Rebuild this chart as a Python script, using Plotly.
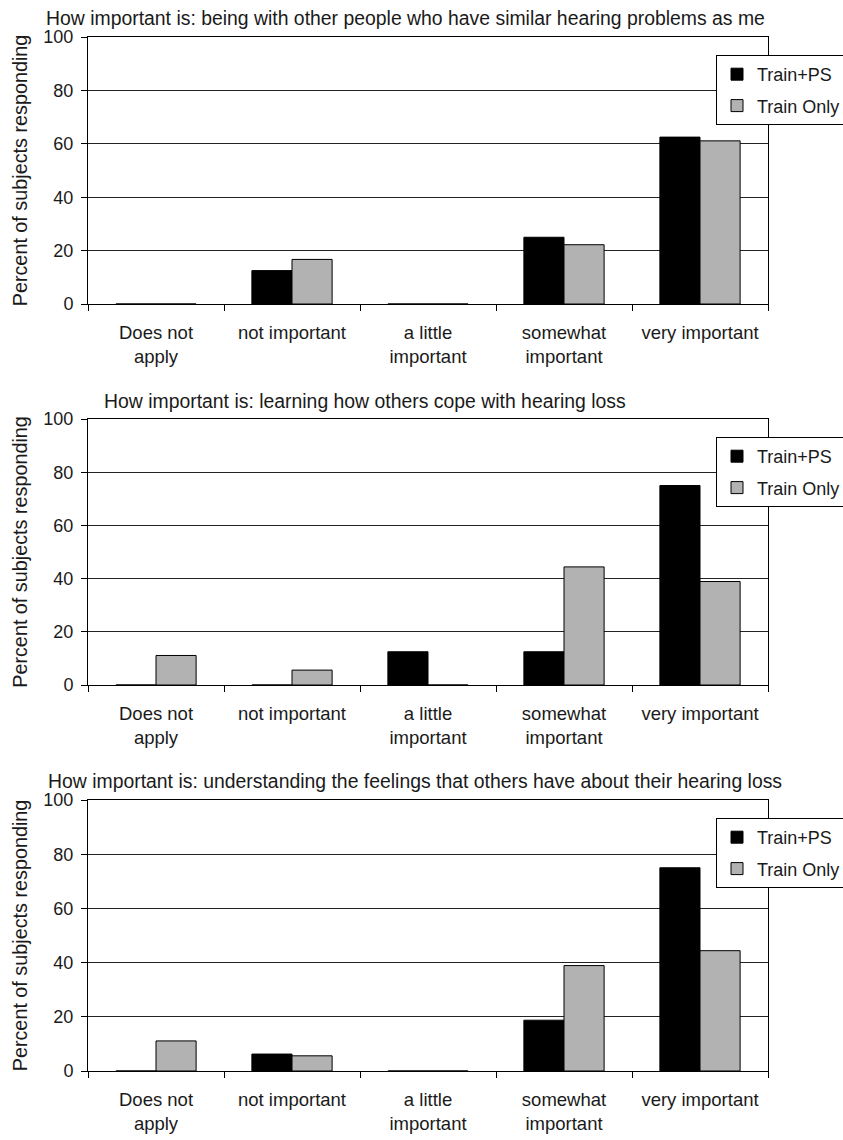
import plotly.graph_objects as go

categories = ["Does not<br>apply", "not important", "a little<br>important",
              "somewhat<br>important", "very important"]
series_names = ["Train+PS", "Train Only"]
panel_titles = [
    "How important is: being with other people who have similar hearing problems as me",
    "How important is: learning how others cope with hearing loss",
    "How important is: understanding the feelings that others have about their hearing loss",
]
train_ps_1 = [0, 12.5, 0, 25, 62.5]
train_only_1 = [0, 16.7, 0, 22.2, 61.1]
train_ps_2 = [0, 0, 12.5, 12.5, 75]
train_only_2 = [11.1, 5.6, 0, 44.4, 38.9]
train_ps_3 = [0, 6.25, 0, 18.75, 75]
train_only_3 = [11.1, 5.6, 0, 38.9, 44.4]
y_ticks = [0, 20, 40, 60, 80, 100]
y_title = "Percent of subjects responding"

W, H = 843, 1140
FONT = "Liberation Sans, Arial, sans-serif"
TXT = "#1a1a1a"
colors = ["#000000", "#b2b2b2"]

# pixel geometry of each panel: (y of 100 line, y of 0 line, title y, title x, legend top)
panels = [
    (37, 304, 18, 44, 55),
    (419, 685, 401, 102, 437),
    (800, 1071, 781, 46, 818),
]
x0, x1 = 88, 768

data = [(train_ps_1, train_only_1), (train_ps_2, train_only_2), (train_ps_3, train_only_3)]

fig = go.Figure()
layout = dict(
    width=W, height=H, margin=dict(l=0, r=0, t=0, b=0, autoexpand=False),
    paper_bgcolor="white", plot_bgcolor="white",
    barmode="group", bargap=0.41, bargroupgap=0,
    font=dict(family=FONT, size=18, color=TXT),
    showlegend=True, annotations=[],
)

for i, ((ps, only), (ytop, ybot, ty, tx, ltop)) in enumerate(zip(data, panels)):
    n = "" if i == 0 else str(i + 1)
    lg = "legend" if i == 0 else f"legend{i+1}"
    for s, (vals, name) in enumerate(zip((ps, only), series_names)):
        fig.add_trace(go.Bar(
            x=categories, y=vals, name=name,
            marker=dict(color=colors[s], line=dict(color="#000000", width=1)),
            xaxis="x" + n, yaxis="y" + n, legend=lg, legendgroup=f"{i}-{s}",
            hoverinfo="skip",
        ))
    layout["xaxis" + n] = dict(
        domain=[x0 / W, x1 / W], anchor="y" + n,
        type="category", tickson="boundaries", ticks="outside", ticklen=6,
        tickcolor="#000", showline=True, linecolor="#000", linewidth=1, mirror=True,
        showgrid=False, tickfont=dict(size=18.5, color=TXT), ticklabelstandoff=12,
        fixedrange=True,
    )
    layout["yaxis" + n] = dict(
        domain=[1 - ybot / H, 1 - ytop / H], anchor="x" + n,
        range=[0, 100], tickvals=y_ticks, ticks="outside", ticklen=6, tickcolor="#000",
        showline=True, linecolor="#000", linewidth=1, mirror=True,
        showgrid=True, gridcolor="#222", gridwidth=1, zeroline=False,
        tickfont=dict(size=18, color=TXT), ticklabelstandoff=4,
        title=dict(text=y_title, font=dict(size=19.8, color=TXT), standoff=10),
        fixedrange=True,
    )
    layout[lg] = dict(
        x=716 / W, y=1 - ltop / H, xanchor="left", yanchor="top",
        bgcolor="white", bordercolor="#000", borderwidth=1,
        font=dict(size=18, color=TXT), tracegroupgap=5, traceorder="grouped",
    )
    layout["annotations"].append(dict(
        text=panel_titles[i], xref="paper", yref="paper",
        x=tx / W, y=1 - ty / H, xanchor="left", yanchor="middle",
        showarrow=False, font=dict(size=19.4, color=TXT),
    ))

fig.update_layout(**layout)
fig.write_html(
    "out.html",
    config={"displayModeBar": False, "staticPlot": True},
    post_script="document.body.style.margin='0';document.body.style.overflow='hidden';",
)
